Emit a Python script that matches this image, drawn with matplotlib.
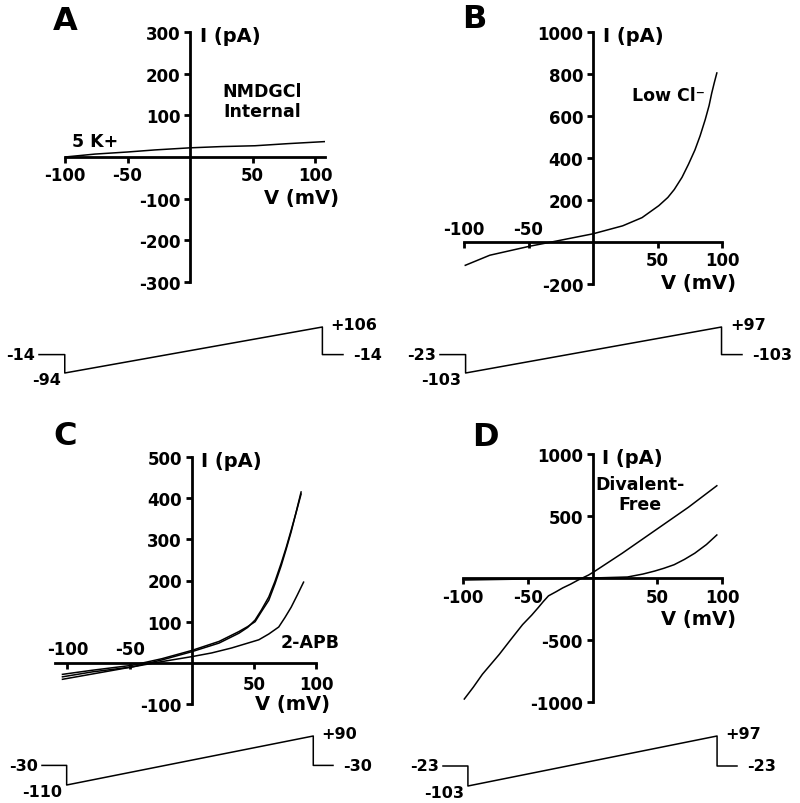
import matplotlib
matplotlib.use('Agg')
import matplotlib.pyplot as plt

plt.rcParams['font.family'] = ['DejaVu Sans']
plt.rcParams['font.weight'] = 'bold'

W, H = 800, 804

# ---- I-V data ----
a_v = [-100, -76, -50, -28, 0, 25, 52, 78, 108]
a_i = [0, 7, 12, 17, 22, 25, 27, 32, 37]

b_v = [-99, -80, -49, -28, 0, 23, 38, 51, 58, 63, 69, 74, 79, 83, 87, 90, 92, 94, 96]
b_i = [-111, -63, -20, 5, 39, 77, 116, 173, 212, 250, 308, 370, 438, 505, 583, 650, 708, 758, 805]

c_v = [-104, -80, -48, -24, 0, 22, 38, 45, 51, 56, 62, 67, 72, 76, 80, 84, 88]
c_i1 = [-34, -22, -10, 7, 27, 48, 72, 86, 104, 128, 160, 198, 242, 280, 322, 365, 410]
c_i2 = [-28, -18, -6, 10, 30, 52, 76, 88, 100, 124, 152, 192, 236, 276, 318, 366, 415]
c_v_apb = [-104, -48, -24, 0, 16, 32, 54, 62, 70, 75, 80, 85, 90]
c_i_apb = [-40, -10, 3, 15, 24, 36, 56, 70, 87, 110, 135, 165, 196]

d_v = [-99, -92, -85, -72, -63, -54, -47, -42, -38, -34, -28, -23, -17, -11, -3, 2, 23, 48.5, 74, 96]
d_i1 = [-976, -880, -776, -616, -495, -376, -300, -240, -190, -144, -110, -80, -50, -16, 24,
        56, 200, 385, 570, 744]
d_v2 = [-98, -50, 0, 27, 39, 48, 55, 63, 71, 79, 88, 96]
d_i2 = [-16, -8, 0, 8, 32, 56, 78, 107, 150, 200, 270, 347]

# ---- ramp protocols: hold, step, peak, return (drawn levels) + labels ----
prot_t = [0, 20, 20, 220, 220, 236]
prot_a = [-14, -94, 106, -14]
prot_b = [-23, -103, 97, -23]
prot_c = [-30, -110, 90, -30]
prot_d = [-23, -103, 97, -23]
lab_a = ['-14', '-94', '+106', '-14']
lab_b = ['-23', '-103', '+97', '-103']
lab_c = ['-30', '-110', '+90', '-30']
lab_d = ['-23', '-103', '+97', '-23']

fig = plt.figure(figsize=(8, 8.04), dpi=100)


def px_axes(x0, y0, x1, y1):
    return fig.add_axes([x0 / W, 1 - y1 / H, (x1 - x0) / W, (y1 - y0) / H])


def iv_axes(box, xlim, ylim, yticks, xlab_pos, below_off=13, above_off=9.5):
    ax = px_axes(*box)
    ax.set_xlim(*xlim)
    ax.set_ylim(*ylim)
    ax.patch.set_visible(False)
    for s in ['top', 'right']:
        ax.spines[s].set_visible(False)
    ax.spines['left'].set_position(('data', 0))
    ax.spines['bottom'].set_position(('data', 0))
    for s in ['left', 'bottom']:
        ax.spines[s].set_linewidth(2)
    ax.set_xticks([-100, -50, 50, 100])
    ax.set_xticklabels([])
    ax.set_yticks(yticks)
    ax.set_yticklabels([str(t) for t in yticks])
    ax.tick_params(direction='out', length=4.5, width=2, pad=2.5, labelsize=12)
    for lab in ax.get_yticklabels():
        lab.set_fontweight('bold')
    for v in [-100, -50, 50, 100]:
        off = above_off if xlab_pos[v] == 'up' else -below_off
        ax.annotate(str(v), (v, 0), xytext=(0, off), textcoords='offset points',
                    ha='center', va='center', fontsize=12, fontweight='bold')
    ax.annotate('I (pA)', (0, ylim[1]), xytext=(7, -2.5), textcoords='offset points',
                ha='left', va='center', fontsize=14, fontweight='bold')
    ax.annotate('V (mV)', (xlim[1], 0), xytext=(-17, -29.5), textcoords='offset points',
                ha='center', va='center', fontsize=14, fontweight='bold')
    return ax


def protocol(box, levels, labels):
    ax = px_axes(*box)
    hold, step, peak, end = levels
    v = [hold, hold, step, peak, end, end]
    ax.plot(prot_t, v, color='black', lw=1.1, clip_on=False)
    ax.set_xlim(prot_t[0], prot_t[-1])
    ax.set_ylim(step, peak)
    ax.axis('off')
    kw = dict(textcoords='offset points', va='center', fontsize=11.5, fontweight='bold')
    ax.annotate(labels[0], (prot_t[0], hold), xytext=(-3, 0), ha='right', **kw)
    ax.annotate(labels[1], (prot_t[2], step), xytext=(-3, -4.5), ha='right', **kw)
    ax.annotate(labels[2], (prot_t[3], peak), xytext=(6, 1.5), ha='left', **kw)
    ax.annotate(labels[3], (prot_t[5], end), xytext=(7.5, 0), ha='left', **kw)


def ftext(x, y, s, size=12.5, **kw):
    fig.text(x / W, 1 - y / H, s, fontsize=size, fontweight='bold',
             ha='center', va='center', **kw)


down = {-100: 'down', -50: 'down', 50: 'down', 100: 'down'}
mixed = {-100: 'up', -50: 'up', 50: 'down', 100: 'down'}

# A
ax = iv_axes((65, 33, 325, 283), (-100, 108), (-300, 300),
             [-300, -200, -100, 100, 200, 300], down)
ax.plot(a_v, a_i, color='black', lw=1.1)
ftext(262, 102, 'NMDGCl\nInternal', linespacing=1.15)
ftext(95, 142, '5 K+')
protocol((39, 328, 343, 374), prot_a, lab_a)

# B
ax = iv_axes((464, 33, 722, 285), (-100, 100), (-200, 1000),
             [-200, 200, 400, 600, 800, 1000], mixed)
ax.plot(b_v, b_i, color='black', lw=1.1)
ftext(668, 96, 'Low Cl\u207b')
protocol((440, 328, 742, 374), prot_b, lab_b)

# C
ax = iv_axes((55, 458, 316, 705), (-110, 100), (-100, 500),
             [-100, 100, 200, 300, 400, 500], mixed, below_off=15, above_off=10)
ax.plot(c_v, c_i1, color='black', lw=1.1)
ax.plot(c_v, c_i2, color='black', lw=1.1)
ax.plot(c_v_apb, c_i_apb, color='black', lw=1.1)
ftext(310, 643, '2-APB')
protocol((42, 737, 333, 786), prot_c, lab_c)

# D
ax = iv_axes((463, 455, 722, 703), (-100, 100), (-1000, 1000),
             [-1000, -500, 500, 1000], down, below_off=14)
ax.plot(d_v, d_i1, color='black', lw=1.1)
ax.plot(d_v2, d_i2, color='black', lw=1.1)
ftext(640, 495, 'Divalent-\nFree', linespacing=1.15)
protocol((443, 737, 737, 787), prot_d, lab_d)

# panel letters
for x, y, s in [(53, 22, 'A'), (462, 20, 'B'), (53, 437, 'C'), (472, 438, 'D')]:
    fig.text(x / W, 1 - y / H, s, fontsize=23, fontweight='bold', ha='left', va='center')

fig.savefig('out.png', dpi=100)
